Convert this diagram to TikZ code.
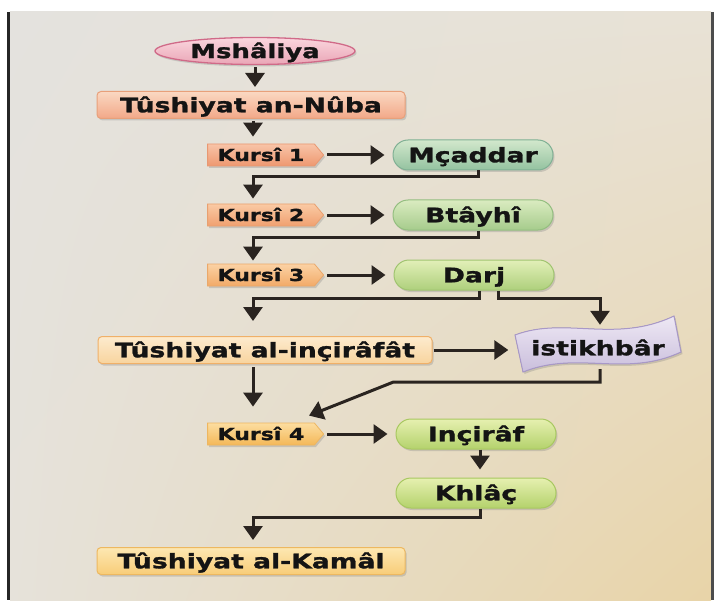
\documentclass[tikz,border=0pt]{standalone}
\usepackage{fontspec}
\usepackage{tikz}
\usetikzlibrary{arrows.meta, shapes.geometric, shapes.symbols, shadows, shadings}
\newfontfamily\diafont[FakeStretch=1.33, FakeBold=1.4]{DejaVu Sans}

\definecolor{inkline}{HTML}{2A2420}
\definecolor{pageA}{HTML}{E4E2DE}
\definecolor{pageB}{HTML}{E8E2D6}
\definecolor{pageC}{HTML}{E6E2DA}
\definecolor{pageD}{HTML}{E8D4A8}
% pink oval
\definecolor{ovalLine}{HTML}{D06A88}
\definecolor{ovalTop}{HTML}{FAD6DE}
\definecolor{ovalBot}{HTML}{EAA6B6}
% orange bars
\definecolor{nubaLine}{HTML}{E8A07A}
\definecolor{nubaTop}{HTML}{FAD8C2}
\definecolor{nubaBot}{HTML}{F2A888}
\definecolor{incirLine}{HTML}{F0B068}
\definecolor{incirTop}{HTML}{FDEBCE}
\definecolor{incirBot}{HTML}{F8D49E}
\definecolor{kamalLine}{HTML}{EDB860}
\definecolor{kamalTop}{HTML}{FDE8B2}
\definecolor{kamalBot}{HTML}{F8CC78}
% kursi signs
\definecolor{kOneLine}{HTML}{E89872}
\definecolor{kOneTop}{HTML}{F8C4A8}
\definecolor{kOneBot}{HTML}{EE9870}
\definecolor{kTwoLine}{HTML}{E8A070}
\definecolor{kTwoTop}{HTML}{FACAA4}
\definecolor{kTwoBot}{HTML}{F0A070}
\definecolor{kThreeLine}{HTML}{EAA86A}
\definecolor{kThreeTop}{HTML}{FBD2A4}
\definecolor{kThreeBot}{HTML}{F2AA68}
\definecolor{kFourLine}{HTML}{EEB660}
\definecolor{kFourTop}{HTML}{FCDDA0}
\definecolor{kFourBot}{HTML}{F4B858}
% green pills
\definecolor{mcLine}{HTML}{80B094}
\definecolor{mcTop}{HTML}{D2E8CC}
\definecolor{mcBot}{HTML}{94C2A0}
\definecolor{btLine}{HTML}{94BE80}
\definecolor{btTop}{HTML}{DAEBC0}
\definecolor{btBot}{HTML}{A6CC8C}
\definecolor{daLine}{HTML}{A0C470}
\definecolor{daTop}{HTML}{E2EFB8}
\definecolor{daBot}{HTML}{AED07C}
\definecolor{inLine}{HTML}{A8C860}
\definecolor{inTop}{HTML}{E6F0B0}
\definecolor{inBot}{HTML}{B4D26C}
% banner
\definecolor{banLine}{HTML}{A898C8}
\definecolor{banTop}{HTML}{EEE8F4}
\definecolor{banBot}{HTML}{C6BADA}

\begin{document}
\begin{tikzpicture}[x=1pt, y=-1pt,
    every node/.style={font=\diafont\bfseries\fontsize{20}{22}\selectfont, text=black!92,
      inner sep=0pt, text height=14.6pt, text depth=0pt},
    boxshadow/.style={drop shadow={shadow xshift=1.5pt, shadow yshift=-2pt, opacity=0.3}},
    oval/.style={ellipse, minimum width=200pt, minimum height=27pt, line width=1.3pt,
      draw=ovalLine, top color=ovalTop, bottom color=ovalBot, boxshadow,
      font=\diafont\bfseries\fontsize{19.5}{21}\selectfont, text height=14.2pt},
    bar/.style={rectangle, rounded corners=4pt, minimum width=308pt, minimum height=27pt,
      line width=1pt, boxshadow},
    kursi/.style={signal, signal to=east, signal pointer angle=100, minimum width=116pt,
      minimum height=22pt, line width=0.8pt, boxshadow,
      font=\diafont\bfseries\fontsize{16.5}{18}\selectfont, text height=12pt},
    pill/.style={rectangle, rounded corners=15pt, minimum width=160pt, minimum height=30pt,
      line width=1pt, boxshadow},
    link/.style={line width=3pt, draw=inkline, -{Triangle[width=19pt,length=14pt]}},
  ]
    % the page
    \fill[white] (0,0) rectangle (717,600);
    \shade[upper left=pageA, upper right=pageB, lower left=pageC, lower right=pageD]
      (10,12) rectangle (711,600);
    \draw[line width=3pt, black!85] (8.5,12) -- (8.5,600);% left edge
    \draw[line width=3pt, black!70] (712.5,12) -- (712.5,600);% right edge

    % boxes
    \node[oval] (Mshaliya) at (255,51) {Mshâliya};
    \node[bar, draw=nubaLine, top color=nubaTop, bottom color=nubaBot] (Nuba)
      at (251,105) {Tûshiyat an-Nûba};
    \node[kursi, draw=kOneLine, top color=kOneTop, bottom color=kOneBot] (KursiOne)
      at (261,155) {Kursî 1};
    \node[kursi, draw=kTwoLine, top color=kTwoTop, bottom color=kTwoBot] (KursiTwo)
      at (261,215) {Kursî 2};
    \node[kursi, draw=kThreeLine, top color=kThreeTop, bottom color=kThreeBot] (KursiThree)
      at (261,275) {Kursî 3};
    \node[kursi, draw=kFourLine, top color=kFourTop, bottom color=kFourBot] (KursiFour)
      at (261,434) {Kursî 4};
    \node[pill, draw=mcLine, top color=mcTop, bottom color=mcBot] (Mcaddar)
      at (473,155) {Mçaddar};
    \node[pill, draw=btLine, top color=btTop, bottom color=btBot] (Btayhi)
      at (473,215) {Btâyhî};
    \node[pill, draw=daLine, top color=daTop, bottom color=daBot] (Darj)
      at (474,275) {Darj};
    \node[pill, draw=inLine, top color=inTop, bottom color=inBot] (Inciraf)
      at (476,434) {Inçirâf};
    \node[pill, draw=inLine, top color=inTop, bottom color=inBot] (Khlac)
      at (476,493) {Khlâç};
    \node[bar, minimum width=334pt, draw=incirLine, top color=incirTop, bottom color=incirBot]
      (Incir) at (265,350) {Tûshiyat al-inçirâfât};
    \node[bar, draw=kamalLine, top color=kamalTop, bottom color=kamalBot] (Kamal)
      at (251,561) {Tûshiyat al-Kamâl};

    % the wavy banner
    \filldraw[line width=1pt, draw=banLine, top color=banTop, bottom color=banBot, boxshadow]
      (515,335) .. controls (565,316) and (615,344) .. (674,316) -- (681,352)
      .. controls (625,378) and (578,350) .. (523,372) -- cycle;
    \node[minimum width=165pt, minimum height=42pt] (Istikhbar) at (598,348) {istikhbâr};

    % connectors
    \draw[link, shorten >=4pt, shorten <=2pt] (Mshaliya.south) -- (Mshaliya.south |- Nuba.north);
    \draw[link, shorten >=7pt, shorten <=2pt] ([xshift=2pt]Nuba.south) -- ([xshift=2pt]Nuba.south |- KursiOne.north);
    \draw[link, shorten >=8pt, shorten <=3pt] (KursiOne.east) -- (Mcaddar.west);
    \draw[link, shorten >=5pt] ([xshift=5pt]Mcaddar.south) -- ++(0,6) -| ([xshift=-8pt]KursiTwo.north);
    \draw[link, shorten >=8pt, shorten <=3pt] (KursiTwo.east) -- (Btayhi.west);
    \draw[link, shorten >=3pt] ([xshift=5pt]Btayhi.south) -- ++(0,7) -| ([xshift=-8pt]KursiThree.north);
    \draw[link, shorten >=8pt, shorten <=3pt] (KursiThree.east) -- (Darj.west);
    \draw[link, shorten >=15pt] ([xshift=5pt]Darj.south) -- ++(0,8) -| ([xshift=-12pt]Incir.north);
    \draw[link, shorten >=2pt] ([xshift=24pt]Darj.south) -- ++(0,8) -| ([xshift=2pt]Istikhbar.north);
    \draw[link, shorten >=7pt, shorten <=1pt] (Incir.east) -- (Incir.east -| Istikhbar.west);
    \draw[link, shorten >=16pt, shorten <=3pt] ([xshift=-12pt]Incir.south) -- ([xshift=-12pt]Incir.south |- KursiFour.north);
    \draw[link] ([xshift=2pt]Istikhbar.south) -- ++(0,13) -- ++(-207,0) -- ([xshift=48pt,yshift=7pt]KursiFour.north);
    \draw[link, shorten >=8pt, shorten <=3pt] (KursiFour.east) -- (Inciraf.west);
    \draw[link, shorten >=8pt] ([xshift=4pt]Inciraf.south) -- ([xshift=4pt]Khlac.north);
    \draw[link, shorten >=7pt] ([xshift=4pt]Khlac.south) -- ++(0,9) -| ([xshift=2pt]Kamal.north);
\end{tikzpicture}
\end{document}
